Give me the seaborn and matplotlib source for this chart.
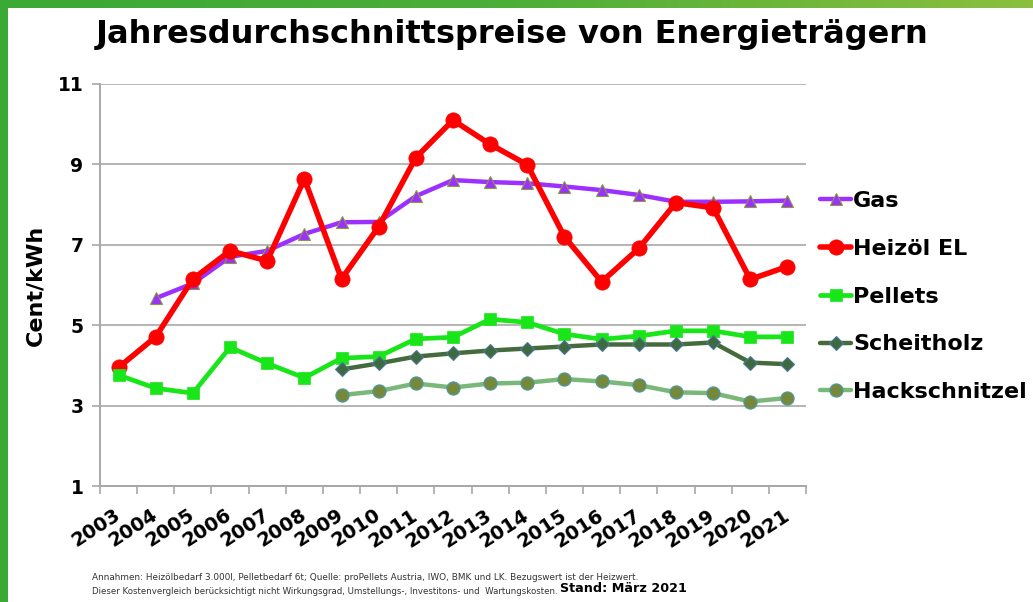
import numpy as np
import pandas as pd
import matplotlib
matplotlib.use("Agg")
import matplotlib.pyplot as plt
import matplotlib.transforms as mtransforms
from matplotlib.colors import LinearSegmentedColormap
import seaborn as sns

years = [str(y) for y in range(2003, 2022)]
gas = [None, 5.67, 6.04, 6.70, 6.85, 7.27, 7.56, 7.57, 8.21, 8.61, 8.56, 8.53, 8.45, 8.36, 8.24, 8.07, 8.07, 8.08, 8.10]
heizoel = [3.95, 4.71, 6.15, 6.85, 6.60, 8.64, 6.15, 7.45, 9.17, 10.10, 9.50, 8.99, 7.20, 6.08, 6.91, 8.05, 7.92, 6.14, 6.46]
pellets = [3.76, 3.43, 3.31, 4.45, 4.05, 3.69, 4.18, 4.22, 4.66, 4.70, 5.15, 5.07, 4.78, 4.65, 4.73, 4.86, 4.86, 4.71, 4.71]
scheitholz = [None, None, None, None, None, None, 3.90, 4.05, 4.22, 4.30, 4.37, 4.42, 4.47, 4.52, 4.52, 4.52, 4.57, 4.07, 4.03]
hack = [None, None, None, None, None, None, 3.26, 3.36, 3.55, 3.45, 3.55, 3.57, 3.66, 3.60, 3.51, 3.33, 3.31, 3.10, 3.19]
series_names = ["Gas", "Heizöl EL", "Pellets", "Scheitholz", "Hackschnitzel"]
yticks = [1, 3, 5, 7, 9, 11]

title = "Jahresdurchschnittspreise von Energieträgern"
ylabel = "Cent/kWh"
note1 = ("Annahmen: Heizölbedarf 3.000l, Pelletbedarf 6t; Quelle: proPellets Austria, IWO, BMK und LK. "
         "Bezugswert ist der Heizwert.")
note2 = ("Dieser Kostenvergleich berücksichtigt nicht Wirkungsgrad, Umstellungs-, Investitons- und  "
         "Wartungskosten.")
note3 = "Stand: März 2021"

sns.set_style("white")
plt.rcParams["font.family"] = ["DejaVu Sans"]
plt.rcParams["text.color"] = "black"
plt.rcParams["xtick.color"] = "black"
plt.rcParams["ytick.color"] = "black"
plt.rcParams["axes.labelcolor"] = "black"

W, H = 1033, 602
fig = plt.figure(figsize=(W / 100, H / 100), dpi=100)

# green frame
top_ax = fig.add_axes([0, 1 - 8 / H, 1, 8 / H])
grad = np.linspace(0, 1, 256).reshape(1, -1)
cm = LinearSegmentedColormap.from_list("g", ["#3aa935", "#4dae38", "#8cbf3e"])
top_ax.imshow(grad, aspect="auto", cmap=cm)
top_ax.axis("off")
left_ax = fig.add_axes([0, 0, 8 / W, 1])
left_ax.set_facecolor("#3aa935")
left_ax.set_xticks([]); left_ax.set_yticks([])
for s in left_ax.spines.values():
    s.set_visible(False)

ax = fig.add_axes([100 / W, 1 - 486 / H, 706 / W, 402 / H])
x = np.arange(len(years))

def to_arr(v):
    return np.array([np.nan if a is None else a for a in v], dtype=float)

styles = [
    (gas, dict(color="#9b30ff", lw=3.2, marker="^", ms=9, mfc="#9b30ff", mec="#8a9a3a", mew=0.8)),
    (heizoel, dict(color="#ff0000", lw=4.0, marker="o", ms=11, mfc="#ff0000", mec="#ff0000", mew=0.5)),
    (pellets, dict(color="#19e619", lw=3.4, marker="s", ms=8, mfc="#19e619", mec="#19e619", mew=0.5)),
    (scheitholz, dict(color="#456b3c", lw=3.2, marker="D", ms=7, mfc="#3f6a40", mec="#4a7aa0", mew=0.8)),
    (hack, dict(color="#7ab87a", lw=3.2, marker="o", ms=9.5, mfc="#76893a", mec="#4a9aaa", mew=0.8)),
]
for (vals, st), name in zip(styles, series_names):
    df = pd.DataFrame({"x": x, "y": to_arr(vals)}).dropna()
    sns.lineplot(data=df, x="x", y="y", ax=ax, label=name, color=st["color"], lw=st["lw"],
                 marker=st["marker"], markersize=st["ms"], markerfacecolor=st["mfc"],
                 markeredgecolor=st["mec"], markeredgewidth=st["mew"], zorder=3)

ax.set_xlim(-0.5, len(years) - 0.5)
ax.set_ylim(1, 11)
ax.set_yticks(yticks)
ax.set_yticklabels([str(t) for t in yticks], fontsize=13.5, fontweight="bold")
ax.yaxis.grid(True, color="#b4b4b4", lw=1.4)
ax.set_axisbelow(True)
for s in ["top", "right"]:
    ax.spines[s].set_visible(False)
ax.spines["left"].set_color("#a8a8a8"); ax.spines["left"].set_linewidth(1.4)
ax.spines["bottom"].set_color("#a8a8a8"); ax.spines["bottom"].set_linewidth(1.4)
ax.tick_params(axis="y", which="major", length=6, color="#a8a8a8", width=1.2, pad=6,
               direction="out", left=True, labelcolor="black")

ax.set_xticks(x)
ax.set_xticklabels(years, rotation=33, ha="right", rotation_mode="anchor", fontsize=14, fontweight="bold")
ax.tick_params(axis="x", which="major", length=0, pad=14, labelcolor="black")
ax.set_xticks(np.arange(-0.5, len(years)), minor=True)
ax.tick_params(axis="x", which="minor", length=6, color="#a8a8a8", width=1.2, direction="out", bottom=True)
for lbl in ax.get_xticklabels():
    lbl.set_transform(lbl.get_transform() + mtransforms.ScaledTranslation(-5 / 100, 0, fig.dpi_scale_trans))

ax.set_xlabel("")
ax.set_ylabel(ylabel, fontsize=16, fontweight="bold", color="black")
ax.yaxis.set_label_coords(-0.077, 0.5)

leg = ax.legend(loc="upper left", bbox_to_anchor=(820 / W, 1 - 191 / H), bbox_transform=fig.transFigure,
                frameon=False, fontsize=16, handlelength=1.4, handletextpad=0.1, labelspacing=1.25,
                borderaxespad=0, borderpad=0)
for t in leg.get_texts():
    t.set_fontweight("bold")
    t.set_color("black")

fig.text(512 / W, 1 - 35 / H, title, ha="center", va="center", fontsize=23, fontweight="bold", color="black")
fig.text(92 / W, 1 - 577 / H, note1, ha="left", va="center", fontsize=6.4, color="#333333")
fig.text(92 / W, 1 - 591 / H, note2, ha="left", va="center", fontsize=6.2, color="#333333")
fig.text(560 / W, 1 - 589 / H, note3, ha="left", va="center", fontsize=9.2, fontweight="bold", color="black")

fig.savefig("out.png", dpi=100, facecolor="white")
